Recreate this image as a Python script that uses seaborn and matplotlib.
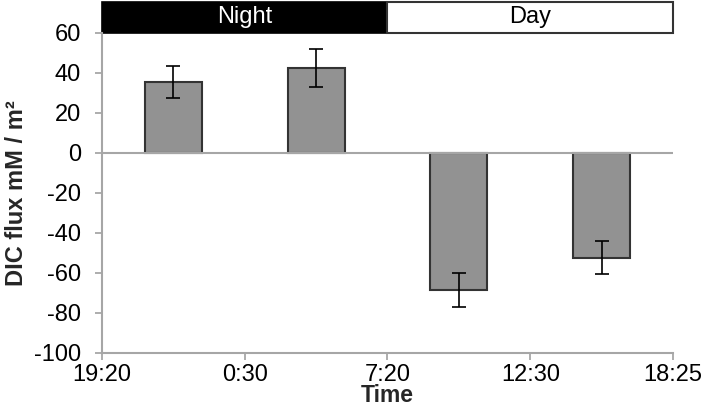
import matplotlib
matplotlib.use("Agg")
import matplotlib.pyplot as plt
import matplotlib.transforms as mtransforms
from matplotlib.patches import Rectangle
import seaborn as sns
import pandas as pd

# Data
bar_ids = ["b1", "b2", "b3", "b4"]
flux = [35.5, 42.5, -68.5, -52.3]
err = [8.2, 9.7, 8.5, 8.2]
tick_labels = ["19:20", "0:30", "7:20", "12:30", "18:25"]
periods = ["Night", "Day"]

sns.set_theme(style="white")
plt.rcParams['font.family'] = ['Liberation Sans', 'DejaVu Sans']
plt.rcParams['axes.unicode_minus'] = False

fig = plt.figure(figsize=(7.08, 4.07), dpi=100)
ax = fig.add_axes([0.144, 0.1327, 0.8066, 0.7863])

df = pd.DataFrame({"id": bar_ids, "flux": flux})
sns.barplot(data=df, x="id", y="flux", ax=ax, color="#929292", width=0.4,
            edgecolor="#333333", linewidth=1.5, saturation=1, errorbar=None)
ax.errorbar(range(len(flux)), flux, yerr=err, fmt="none", ecolor="black",
            elinewidth=1.2, capsize=5, capthick=1.2, zorder=5)

ax.axhline(0, color="#a6a6a6", lw=1.5, zorder=1)
ax.set_xlim(-0.5, 3.5)
ax.set_ylim(-100, 60)
ax.set_yticks(range(-100, 61, 20))
ax.set_xticks([-0.5, 0.5, 1.5, 2.5, 3.5])
ax.set_xticklabels(tick_labels)
ax.tick_params(axis="both", labelsize=17, colors="#a0a0a0", labelcolor="black",
               length=5, width=1.2, direction="out")
ax.tick_params(axis="x", bottom=True, pad=3)
ax.tick_params(axis="y", left=True, pad=10)
for s in ["top", "right"]:
    ax.spines[s].set_visible(False)
for s in ["left", "bottom"]:
    ax.spines[s].set_color("#a6a6a6")
    ax.spines[s].set_linewidth(1.5)

ax.set_ylabel("DIC flux mM / m²", fontsize=17, fontweight="bold", labelpad=4)
ax.set_xlabel("Time", fontsize=16.5, fontweight="bold", labelpad=-1.5)

# Night / Day band above the axes
trans = mtransforms.blended_transform_factory(ax.transData, ax.transAxes)
band_h = 0.097
ax.add_patch(Rectangle((-0.5, 1.0), 2.0, band_h, transform=trans, clip_on=False,
                       facecolor="black", edgecolor="black", lw=1.2))
ax.add_patch(Rectangle((1.5, 1.0), 2.0, band_h, transform=trans, clip_on=False,
                       facecolor="white", edgecolor="#333333", lw=1.5))
ax.text(0.5, 1.0 + band_h / 2, periods[0], transform=trans, ha="center", va="center",
        color="white", fontsize=17)
ax.text(2.5, 1.0 + band_h / 2, periods[1], transform=trans, ha="center", va="center",
        color="black", fontsize=17)

fig.savefig("out.png", dpi=100)
